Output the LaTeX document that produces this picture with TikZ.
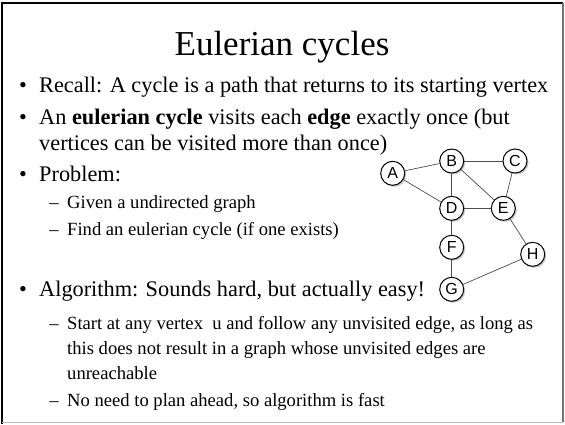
\documentclass[tikz,border=0pt]{standalone}
\usepackage{fontspec}
\setmainfont{Liberation Serif}
\newfontfamily\vertexfont{Liberation Sans}
\usepackage{tikz}
\usetikzlibrary{shadows}

\begin{document}
\begin{tikzpicture}[x=1pt,y=-1pt,
	vertex/.style={circle,draw=black,fill=white,line width=1pt,inner sep=0pt,minimum size=24pt,
		font=\vertexfont\fontsize{16}{16}\selectfont,
		drop shadow={shadow xshift=1.5pt,shadow yshift=-1.5pt,opacity=0.45}},
	title/.style={anchor=base,inner sep=0pt,font=\fontsize{35}{40}\selectfont},
	body/.style={anchor=base west,inner sep=0pt,font=\fontsize{22.3}{26}\selectfont},
	sub/.style={anchor=base west,inner sep=0pt,font=\fontsize{18.6}{22}\selectfont},
	bul/.style={anchor=base,inner sep=0pt,font=\fontsize{22.3}{26}\selectfont},
	dsh/.style={anchor=base,inner sep=0pt,font=\fontsize{18.6}{22}\selectfont}]
		\useasboundingbox (0,0) rectangle (565,424);
		% slide frame
		\draw[black,line width=2.5pt] (2,424) -- (2,3) -- (563,3);
		\draw[black!55,line width=1.5pt] (563,3) -- (563,422);
		\draw[black!25,line width=1pt] (2,422.5) -- (563,422.5);
		%
		\node[title] (title) at (282,55) {Eulerian cycles};
		%
		\node[bul] (b1) at (23,92) {\textbullet};
		\node[body] (recall) at (39,92) {Recall: A cycle is a path that returns to its starting vertex};
		\node[bul] (b2) at (23,124) {\textbullet};
		\node[body] (euler) at (39,124) {An \textbf{eulerian cycle} visits each \textbf{edge} exactly once (but};
		\node[body] (euler2) at (39,150) {vertices can be visited more than once)};
		\node[bul] (b3) at (23,181) {\textbullet};
		\node[body] (problem) at (39,181) {Problem:};
		\node[dsh] (d1) at (54,208) {--};
		\node[sub] (given) at (67,208) {Given a undirected graph};
		\node[dsh] (d2) at (54,235) {--};
		\node[sub] (find) at (67,235) {Find an eulerian cycle (if one exists)};
		\node[bul] (b4) at (23,296) {\textbullet};
		\node[body] (algo) at (39,296) {Algorithm: Sounds hard, but actually easy!};
		\node[dsh] (d3) at (54,329) {--};
		\node[sub] (start) at (67,329) {Start at any vertex\ \ u and follow any unvisited edge, as long as};
		\node[sub] (start2) at (67,354) {this does not result in a graph whose unvisited edges are};
		\node[sub] (start3) at (67,379) {unreachable};
		\node[dsh] (d4) at (54,406) {--};
		\node[sub] (noneed) at (67,406) {No need to plan ahead, so algorithm is fast};
		%
		\node[vertex] (A) at (392.7,173.3) {A};
		\node[vertex] (B) at (451.7,161) {B};
		\node[vertex] (C) at (515,161) {C};
		\node[vertex] (D) at (451.7,208.3) {D};
		\node[vertex] (E) at (503.3,208.3) {E};
		\node[vertex] (F) at (451.7,247.3) {F};
		\node[vertex] (H) at (532.7,254.3) {H};
		\node[vertex] (G) at (451.7,289.3) {G};
		%
		\path[draw=black!70,line width=0.7pt]
		(A) edge (B)
		(A) edge (D)
		(B) edge (C)
		(B) edge (D)
		(B) edge (E)
		(C) edge (E)
		(D) edge (E)
		(D) edge (F)
		(E) edge (H)
		(F) edge (G)
		(G) edge (H);
		\end{tikzpicture}
\end{document}
